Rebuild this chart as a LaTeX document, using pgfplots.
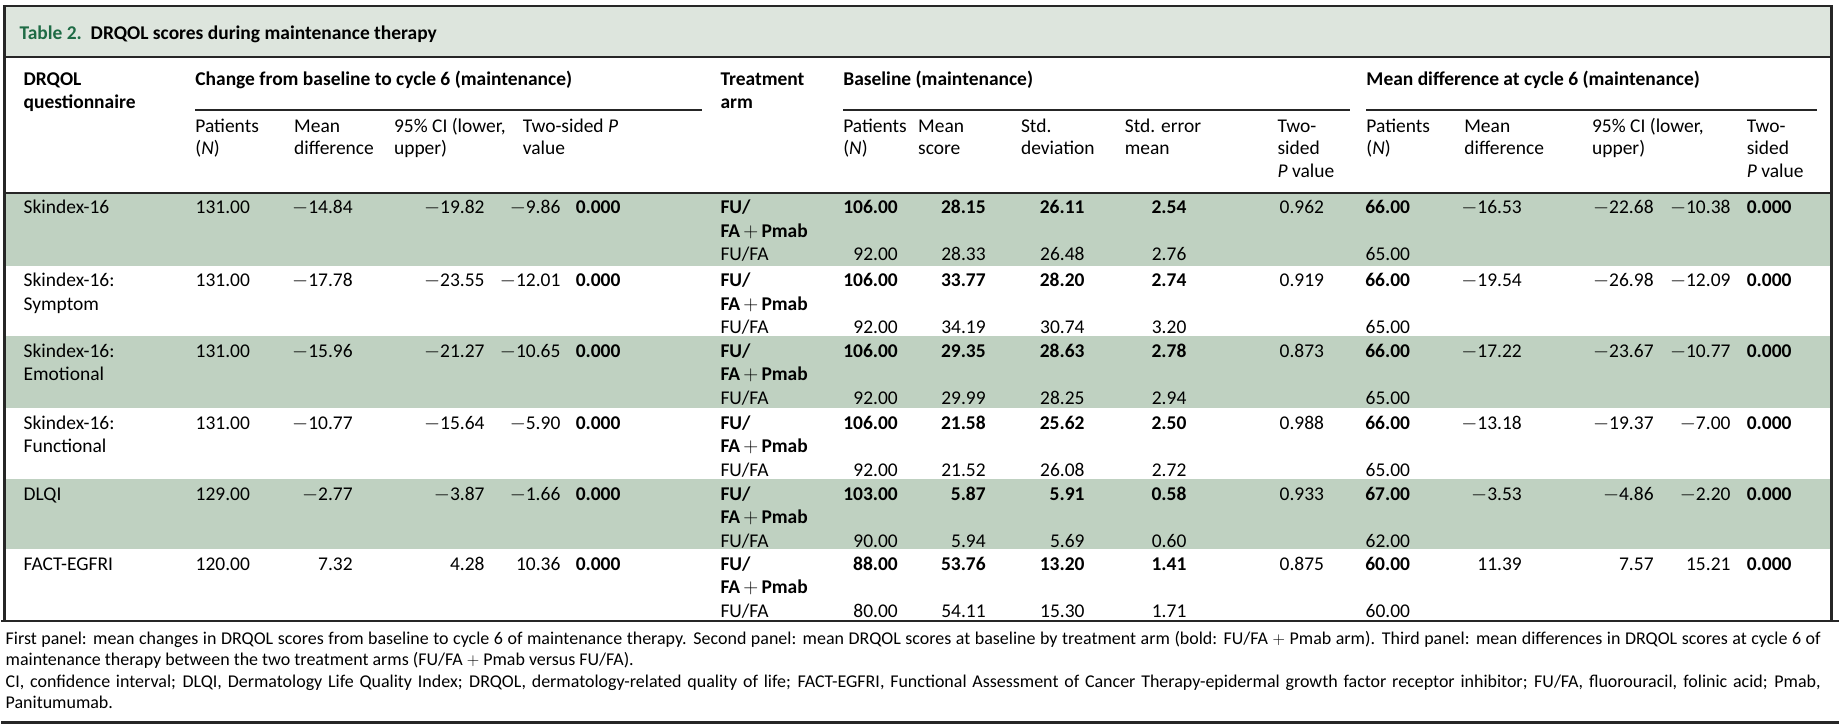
\documentclass[border=0pt]{standalone}
\usepackage{fontspec}
\setmainfont{Carlito}
\usepackage{pgfplots}
\pgfplotsset{compat=1.18}
\definecolor{tgreen}{HTML}{1E6B45}
\definecolor{band}{HTML}{DDE5DD}
\definecolor{rowg}{HTML}{BFD1C1}
\definecolor{rulec}{HTML}{262626}
\newcommand{\m}{$-$}
\newcommand{\tR}[3]{\node[anchor=base east,inner sep=0pt] at (axis cs:#1,{#2}) {#3};}
\newcommand{\tL}[3]{\node[anchor=base west,inner sep=0pt] at (axis cs:#1,{#2}) {#3};}
% change-from-baseline block: top, name1, name2, N, mean diff, CI low, CI high
\newcommand{\rowchange}[7]{%
 \tL{22}{#1+21}{#2}\tL{22}{#1+44.5}{#3}%
 \tR{249}{#1+21}{#4}\tR{352}{#1+21}{#5}\tR{484}{#1+21}{#6}\tR{560}{#1+21}{#7}%
 \tL{575}{#1+21}{\textbf{0.000}}%
 \tL{720}{#1+21}{\textbf{FU/}}\tL{720}{#1+44.5}{\textbf{FA\,$+$\,Pmab}}\tL{720}{#1+68}{FU/FA}}
% baseline block, FU/FA+Pmab arm: top, N, mean, sd, se, p
\newcommand{\rowbase}[6]{%
 \tR{898}{#1+21}{\textbf{#2}}\tR{986}{#1+21}{\textbf{#3}}\tR{1085}{#1+21}{\textbf{#4}}\tR{1187}{#1+21}{\textbf{#5}}%
 \tL{1280}{#1+21}{#6}}
% baseline block, FU/FA arm: top, N, mean, sd, se
\newcommand{\rowbaseb}[5]{%
 \tR{898}{#1+68}{#2}\tR{986}{#1+68}{#3}\tR{1085}{#1+68}{#4}\tR{1187}{#1+68}{#5}}
% mean difference block: top, N1, N2, md, CI low, CI high
\newcommand{\rowdiff}[6]{%
 \tR{1411}{#1+21}{\textbf{#2}}\tR{1411}{#1+68}{#3}\tR{1523}{#1+21}{#4}\tR{1655}{#1+21}{#5}\tR{1732}{#1+21}{#6}%
 \tL{1748}{#1+21}{\textbf{0.000}}}
\newcommand{\fn}{\fontsize{18}{21}\selectfont}
\begin{document}
\begin{tikzpicture}[font=\fontsize{19.5}{23.5}\selectfont]
\begin{axis}[width=1840pt,height=729pt,scale only axis,
  xmin=0,xmax=1840,ymin=0,ymax=729,y dir=reverse,hide axis,clip=false]
\path (axis cs:0,0) rectangle (axis cs:1840,729);
% backgrounds
\fill[band] (axis cs:3,6) rectangle (axis cs:1833,57);
\fill[rowg] (axis cs:3,193) rectangle (axis cs:1833,266);
\fill[rowg] (axis cs:3,337) rectangle (axis cs:1833,409);
\fill[rowg] (axis cs:3,480) rectangle (axis cs:1833,550);
% rules
\draw[rulec,line width=2.5pt] (axis cs:3,6) rectangle (axis cs:1833,622);
\draw[rulec,line width=2pt] (axis cs:3,57) -- (axis cs:1833,57);
\draw[rulec,line width=2pt] (axis cs:3,193) -- (axis cs:1833,193);
\draw[rulec,line width=1.6pt] (axis cs:194,110) -- (axis cs:702,110);
\draw[rulec,line width=1.6pt] (axis cs:843,110) -- (axis cs:1351,110);
\draw[rulec,line width=1.6pt] (axis cs:1367,110) -- (axis cs:1818,110);
\draw[rulec,line width=3pt] (axis cs:0,622) -- (axis cs:1840,622);
\draw[rulec,line width=3pt] (axis cs:0,724) -- (axis cs:1840,724);
% title
\tL{18}{39.5}{\textbf{\textcolor{tgreen}{Table 2.}\ \ DRQOL scores during maintenance therapy}}
% group headers
\tL{22}{86}{\textbf{DRQOL}}\tL{22}{108.5}{\textbf{questionnaire}}
\tL{194}{86}{\textbf{Change from baseline to cycle 6 (maintenance)}}
\tL{720}{86}{\textbf{Treatment}}\tL{720}{108.5}{\textbf{arm}}
\tL{843}{86}{\textbf{Baseline (maintenance)}}
\tL{1367}{86}{\textbf{Mean difference at cycle 6 (maintenance)}}
% sub headers
\tL{194}{132.5}{Patients}\tL{194}{155}{(\textit{N})}
\tL{293}{132.5}{Mean}\tL{293}{155}{difference}
\tL{393}{132.5}{95\% CI (lower,}\tL{393}{155}{upper)}
\tL{522}{132.5}{Two-sided \textit{P}}\tL{522}{155}{value}
\tL{843}{132.5}{Patients}\tL{843}{155}{(\textit{N})}
\tL{918}{132.5}{Mean}\tL{918}{155}{score}
\tL{1021}{132.5}{Std.}\tL{1021}{155}{deviation}
\tL{1125}{132.5}{Std. error}\tL{1125}{155}{mean}
\tL{1278}{132.5}{Two-}\tL{1278}{155}{sided}\tL{1278}{177.5}{\textit{P} value}
\tL{1367}{132.5}{Patients}\tL{1367}{155}{(\textit{N})}
\tL{1465}{132.5}{Mean}\tL{1465}{155}{difference}
\tL{1593}{132.5}{95\% CI (lower,}\tL{1593}{155}{upper)}
\tL{1748}{132.5}{Two-}\tL{1748}{155}{sided}\tL{1748}{177.5}{\textit{P} value}
% rows
\rowchange{193}{Skindex-16}{}{131.00}{\m14.84}{\m19.82}{\m9.86}
\rowbase{193}{106.00}{28.15}{26.11}{2.54}{0.962}
\rowbaseb{193}{92.00}{28.33}{26.48}{2.76}
\rowdiff{193}{66.00}{65.00}{\m16.53}{\m22.68}{\m10.38}
%
\rowchange{266}{Skindex-16:}{Symptom}{131.00}{\m17.78}{\m23.55}{\m12.01}
\rowbase{266}{106.00}{33.77}{28.20}{2.74}{0.919}
\rowbaseb{266}{92.00}{34.19}{30.74}{3.20}
\rowdiff{266}{66.00}{65.00}{\m19.54}{\m26.98}{\m12.09}
%
\rowchange{337}{Skindex-16:}{Emotional}{131.00}{\m15.96}{\m21.27}{\m10.65}
\rowbase{337}{106.00}{29.35}{28.63}{2.78}{0.873}
\rowbaseb{337}{92.00}{29.99}{28.25}{2.94}
\rowdiff{337}{66.00}{65.00}{\m17.22}{\m23.67}{\m10.77}
%
\rowchange{409}{Skindex-16:}{Functional}{131.00}{\m10.77}{\m15.64}{\m5.90}
\rowbase{409}{106.00}{21.58}{25.62}{2.50}{0.988}
\rowbaseb{409}{92.00}{21.52}{26.08}{2.72}
\rowdiff{409}{66.00}{65.00}{\m13.18}{\m19.37}{\m7.00}
%
\rowchange{480}{DLQI}{}{129.00}{\m2.77}{\m3.87}{\m1.66}
\rowbase{480}{103.00}{5.87}{5.91}{0.58}{0.933}
\rowbaseb{480}{90.00}{5.94}{5.69}{0.60}
\rowdiff{480}{67.00}{62.00}{\m3.53}{\m4.86}{\m2.20}
%
\rowchange{550}{FACT-EGFRI}{}{120.00}{7.32}{4.28}{10.36}
\rowbase{550}{88.00}{53.76}{13.20}{1.41}{0.875}
\rowbaseb{550}{80.00}{54.11}{15.30}{1.71}
\rowdiff{550}{60.00}{60.00}{11.39}{7.57}{15.21}
% footnotes
\tL{4}{646}{\fn\makebox[1818pt][s]{First panel: mean changes in DRQOL scores from baseline to cycle 6 of maintenance therapy. Second panel: mean DRQOL scores at baseline by treatment arm (bold: FU/FA $+$ Pmab arm). Third panel: mean differences in DRQOL scores at cycle 6 of}}
\tL{4}{667}{\fn maintenance therapy between the two treatment arms (FU/FA $+$ Pmab versus FU/FA).}
\tL{4}{689}{\fn\makebox[1818pt][s]{CI, confidence interval; DLQI, Dermatology Life Quality Index; DRQOL, dermatology-related quality of life; FACT-EGFRI, Functional Assessment of Cancer Therapy-epidermal growth factor receptor inhibitor; FU/FA, fluorouracil, folinic acid; Pmab,}}
\tL{4}{710}{\fn Panitumumab.}
\end{axis}
\end{tikzpicture}
\end{document}
